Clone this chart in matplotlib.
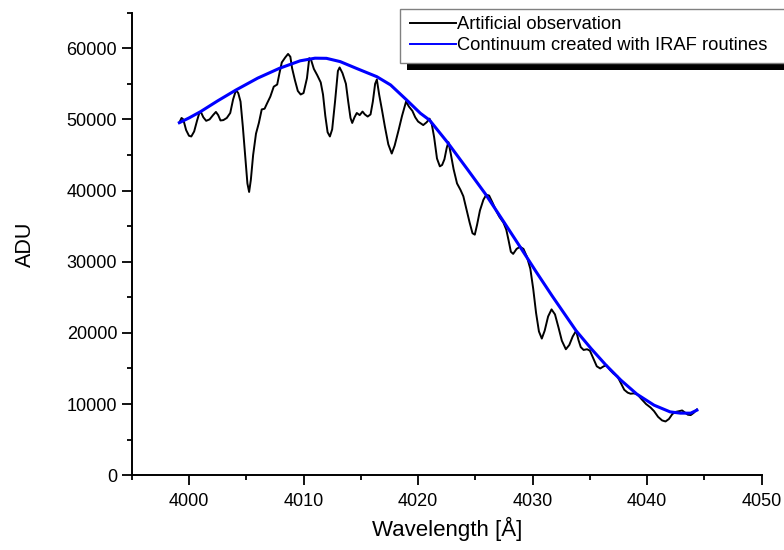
import numpy as np
import matplotlib
matplotlib.use("Agg")
import matplotlib.pyplot as plt
from matplotlib.patches import Rectangle
from matplotlib.ticker import MultipleLocator

plt.rcParams['font.family'] = ['Liberation Sans', 'DejaVu Sans']

# artificial observation
obs_wl = [3999.16, 3999.35, 3999.5, 3999.75, 4000.0, 4000.2, 4000.45, 4000.7, 4000.9, 4001.05,
          4001.25, 4001.5, 4001.8, 4002.1, 4002.35, 4002.55, 4002.75, 4003.0, 4003.3, 4003.6,
          4003.85, 4004.1, 4004.3, 4004.5, 4004.7, 4004.9, 4005.1, 4005.25, 4005.4, 4005.6,
          4005.85, 4006.1, 4006.35, 4006.6, 4006.8, 4007.1, 4007.4, 4007.7, 4007.9, 4008.1,
          4008.4, 4008.65, 4008.85, 4009.0, 4009.25, 4009.5, 4009.75, 4010.0, 4010.3, 4010.5,
          4010.65, 4010.9, 4011.2, 4011.5, 4011.7, 4011.9, 4012.1, 4012.3, 4012.5, 4012.75,
          4013.0, 4013.15, 4013.4, 4013.7, 4013.9, 4014.1, 4014.25, 4014.45, 4014.65, 4014.9,
          4015.15, 4015.35, 4015.6, 4015.85, 4016.05, 4016.25, 4016.4, 4016.6, 4016.85, 4017.1,
          4017.4, 4017.7, 4017.95, 4018.3, 4018.6, 4018.95, 4019.2, 4019.5, 4019.75, 4020.0,
          4020.45, 4020.75, 4021.0, 4021.2, 4021.4, 4021.65, 4021.9, 4022.1, 4022.3, 4022.5,
          4022.65, 4022.85, 4023.1, 4023.4, 4023.7, 4023.95, 4024.2, 4024.5, 4024.75, 4024.95,
          4025.15, 4025.4, 4025.7, 4025.95, 4026.2, 4026.5, 4026.8, 4027.1, 4027.45, 4027.7,
          4027.9, 4028.1, 4028.3, 4028.6, 4028.9, 4029.2, 4029.5, 4029.8, 4030.05, 4030.3,
          4030.55, 4030.8, 4031.05, 4031.35, 4031.65, 4031.95, 4032.25, 4032.55, 4032.9, 4033.2,
          4033.5, 4033.8, 4034.0, 4034.2, 4034.45, 4034.75, 4035.0, 4035.3, 4035.6, 4035.9,
          4036.2, 4036.45, 4036.75, 4037.05, 4037.4, 4037.75, 4038.0, 4038.3, 4038.55, 4038.85,
          4039.15, 4039.5, 4039.9, 4040.3, 4040.6, 4040.95, 4041.3, 4041.6, 4041.9, 4042.2,
          4042.5, 4042.8, 4043.05, 4043.3, 4043.55, 4043.8, 4044.05, 4044.34]
obs_adu = [49540, 50200, 50000, 48500, 47700, 47600, 48300, 49800, 50900, 51000,
           50300, 49800, 50000, 50600, 51050, 50600, 49850, 49900, 50200, 50900,
           52800, 54100, 53700, 52500, 49000, 45000, 41000, 39800, 41500, 45000,
           48000, 49500, 51400, 51500, 52200, 53200, 54600, 54900, 56500, 58000,
           58700, 59200, 58800, 57200, 55500, 54000, 53500, 53700, 55800, 58600,
           58400, 57100, 56200, 55200, 53500, 50500, 48200, 47600, 48600, 52500,
           56800, 57300, 56500, 55000, 52500, 50200, 49500, 50300, 50900, 50600,
           51100, 50700, 50400, 50700, 52500, 55000, 55600, 53500, 51300, 49000,
           46500, 45200, 46300, 48500, 50500, 52500, 51800, 51200, 50300, 49700,
           49200, 49600, 50100, 49300, 47500, 44500, 43400, 43600, 44400, 46000,
           46800, 45200, 43000, 41000, 40100, 39200, 37500, 35500, 34000, 33800,
           35200, 37200, 38700, 39400, 39300, 38300, 37200, 36300, 35500, 34500,
           33000, 31400, 31100, 31800, 32100, 31800, 30700, 29000, 26200, 22800,
           20200, 19200, 20300, 22300, 23300, 22600, 20800, 18900, 17700, 18300,
           19500, 20300, 19000, 18000, 17600, 17700, 17500, 16400, 15300, 15000,
           15300, 15450, 14800, 14300, 13900, 12800, 12000, 11600, 11450, 11500,
           11350, 10700, 10000, 9500, 9000, 8200, 7700, 7550, 7900, 8600,
           8900, 9000, 9100, 8800, 8500, 8450, 8750, 9240]

# continuum fit
cont_wl = [3999.16, 4000.0, 4001.0, 4002.5, 4004.1, 4006.0, 4007.9, 4009.7, 4011.0, 4012.0,
           4013.2, 4014.6, 4016.4, 4017.6, 4019.0, 4020.2, 4021.0, 4022.6, 4024.3, 4025.9,
           4027.4, 4028.9, 4030.3, 4031.7, 4033.8, 4035.1, 4036.4, 4037.7, 4039.1, 4040.6,
           4042.0, 4042.9, 4043.8, 4044.34]
cont_adu = [49540, 50200, 51080, 52600, 54130, 55800, 57180, 58230, 58600, 58580,
            58120, 57180, 56000, 54840, 52730, 50860, 49900, 46700, 43000, 39470,
            35800, 32100, 28600, 25200, 20290, 17800, 15470, 13360, 11390, 9840,
            8900, 8720, 8720, 9140]

W, H = 784, 550
fig = plt.figure(figsize=(W / 100, H / 100), dpi=100)
ax = fig.add_axes([0.168, 0.136, 0.8036, 0.841])

l1, = ax.plot(obs_wl, obs_adu, color='black', lw=1.4, label='Artificial observation')
l2, = ax.plot(cont_wl, cont_adu, color='#0000ff', lw=2.2, label='Continuum created with IRAF routines')

ax.set_xlim(3995, 4050)
ax.set_ylim(0, 65000)
ax.xaxis.set_major_locator(MultipleLocator(10))
ax.xaxis.set_minor_locator(MultipleLocator(5))
ax.yaxis.set_major_locator(MultipleLocator(10000))
ax.yaxis.set_minor_locator(MultipleLocator(5000))

for s in ['top', 'right']:
    ax.spines[s].set_visible(False)
for s in ['left', 'bottom']:
    ax.spines[s].set_linewidth(1.4)
ax.tick_params(which='major', direction='out', length=7.5, width=1.3, labelsize=13, pad=3)
ax.tick_params(which='minor', direction='out', length=3.5, width=1.3)
ax.tick_params(axis='x', which='major', pad=5)

ax.set_xlabel('Wavelength [Å]', fontsize=16, labelpad=5)
ax.set_ylabel('ADU', fontsize=15.5, labelpad=22)

# legend box running off the right edge, with a solid black shadow
shadow = Rectangle((407 / W, 1 - 70 / H), 400 / W, 54 / H, transform=fig.transFigure,
                   facecolor='black', edgecolor='none', zorder=1)
box = Rectangle((400 / W, 1 - 63 / H), 400 / W, 54 / H, transform=fig.transFigure,
                facecolor='white', edgecolor='#808080', lw=1.0, zorder=2)
fig.patches.extend([shadow, box])

leg = fig.legend(handles=[l1, l2], loc='upper left', bbox_to_anchor=(404 / W, 1 - 10 / H),
                 borderaxespad=0, frameon=False, fontsize=13.2, handlelength=2.5,
                 handletextpad=0.05, labelspacing=0.2, borderpad=0.35)
leg.set_zorder(5)
for line in leg.get_lines():
    line.set_linewidth(1.4)

fig.savefig('out.png', dpi=100)
